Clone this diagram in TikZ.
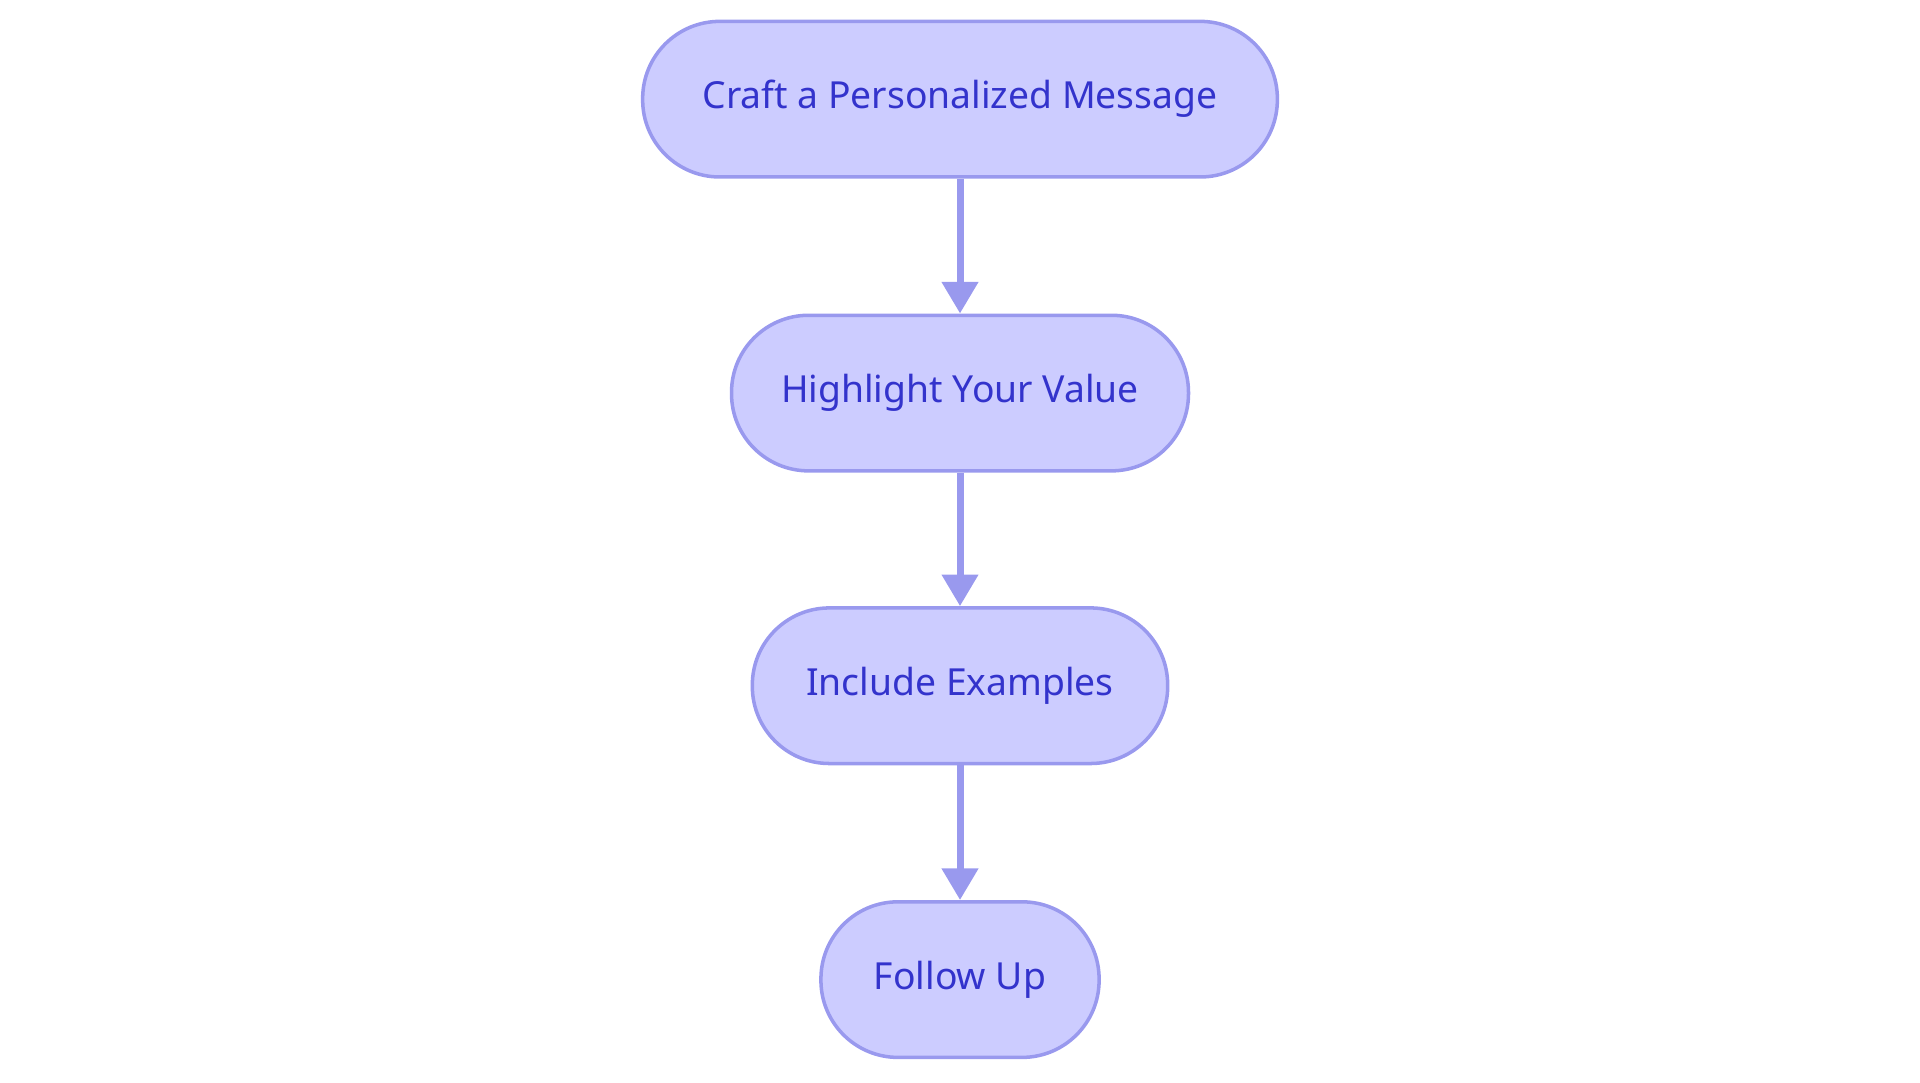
\documentclass[tikz,border=0pt]{standalone}
\usepackage{fontspec}
\setmainfont{Noto Sans}
\usetikzlibrary{arrows.meta}
\definecolor{nfill}{HTML}{CCCCFF}
\definecolor{nline}{HTML}{9999EE}
\definecolor{ntext}{HTML}{3333CC}
\begin{document}
\begin{tikzpicture}[x=0.012245cm,y=-0.012245cm,
  box/.style={draw=nline,line width=1pt,fill=nfill,rounded corners=0.77cm,minimum height=1.555cm,text=ntext,font=\fontsize{10.6pt}{13pt}\selectfont,inner sep=0pt},
  arr/.style={draw=nline,line width=2pt,-{Triangle[length=9pt,width=10pt]}}]
\useasboundingbox (0,0) rectangle (1568,884);
\node[box,minimum width=6.343cm] (a) at (784,81) {Craft a Personalized Message};
\node[box,minimum width=4.567cm] (b) at (784,321) {Highlight Your Value};
\node[box,minimum width=4.151cm] (c) at (784,560) {Include Examples};
\node[box,minimum width=2.78cm] (d) at (784,800) {Follow Up};
\draw[arr] (a) -- (b);
\draw[arr] (b) -- (c);
\draw[arr] (c) -- (d);
\end{tikzpicture}
\end{document}
